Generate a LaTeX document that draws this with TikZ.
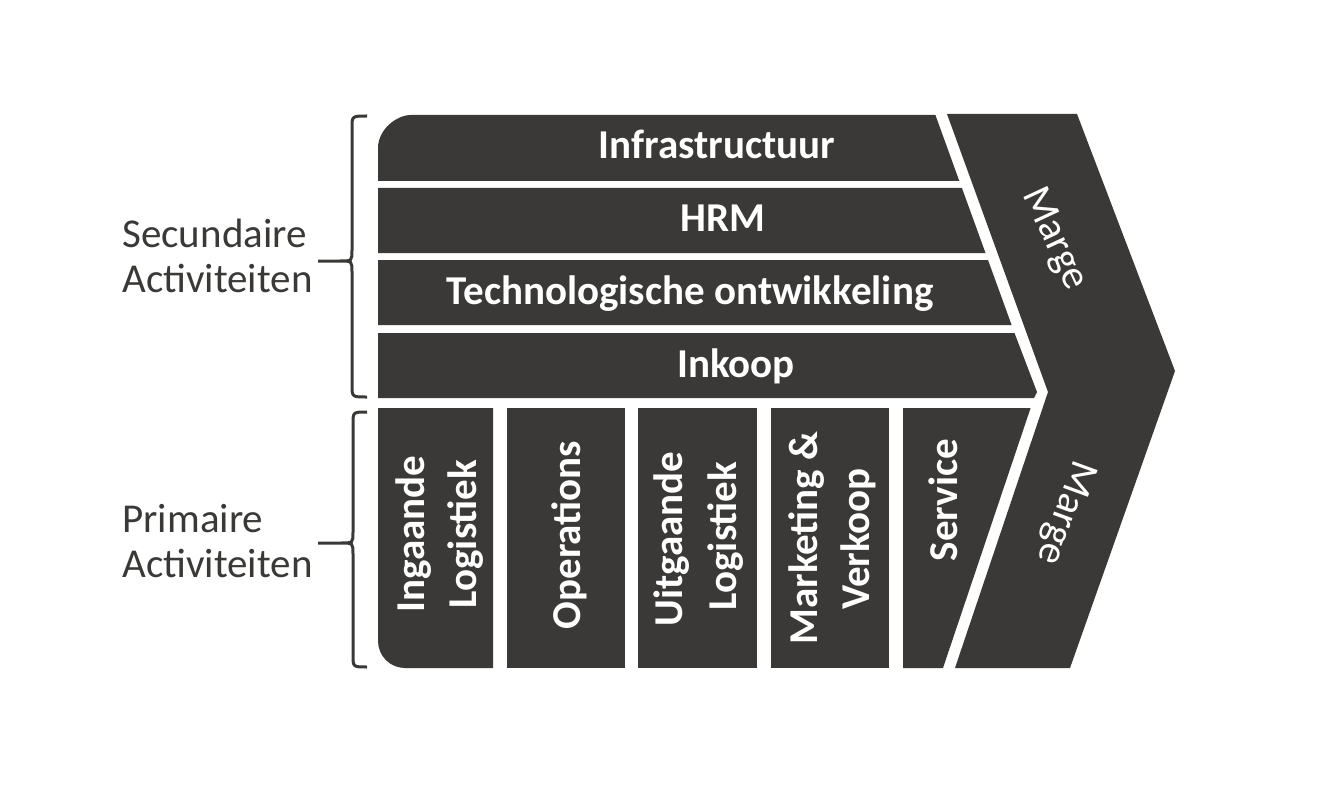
\documentclass[tikz,border=0pt]{standalone}
\usepackage{fontspec}
\setmainfont{Carlito}
\definecolor{dk}{RGB}{58,57,55}
\begin{document}
\begin{tikzpicture}[x=0.5pt,y=-0.5pt,
  blk/.style={fill=dk},
  bartxt/.style={text=white,font=\fontsize{20.5pt}{25pt}\selectfont\bfseries,inner sep=0pt,anchor=base},
  coltxt/.style={bartxt,rotate=90},
  margetxt/.style={text=white,font=\fontsize{20.5pt}{25pt}\selectfont,inner sep=0pt},
  lbl/.style={text=dk,font=\fontsize{20.5pt}{25pt}\selectfont,inner sep=0pt,anchor=base west},
  brace/.style={draw=dk,line width=1.5pt}]
\path[use as bounding box,fill=white] (0,0) rectangle (1334,808);

% Marge chevron
\fill[blk] (947,114) -- (1077,114) -- (1175,371) -- (1070,668) -- (955,668) -- (1048,392) -- cycle;

% secondary bars
\fill[blk] (378,181) -- (378,148) .. controls (378,129.8) and (396.2,115) .. (411,115) -- (935.4,115) -- (959.3,181) -- cycle;
\fill[blk] (378,188) -- (961.9,188) -- (985.5,253) -- (378,253) -- cycle;
\fill[blk] (378,260) -- (988.0,260) -- (1011.6,325) -- (378,325) -- cycle;
\fill[blk] (378,333) -- (1014.5,333) -- (1037,392) -- (1034,398) -- (378,398) -- cycle;

% primary columns
\fill[blk] (378,408) -- (493,408) -- (493,668) -- (405,668) .. controls (390.1,668) and (378,655.9) .. (378,641) -- cycle;
\fill[blk] (507,408) rectangle (625,668);
\fill[blk] (638,408) rectangle (757,668);
\fill[blk] (771,408) rectangle (889,668);
\fill[blk] (903,408) -- (1030.6,408) -- (943,668) -- (903,668) -- cycle;

% texts in bars
\node[bartxt] (infra) at (717,159) {Infrastructuur};
\node[bartxt] (hrm) at (723,231) {HRM};
\node[bartxt] (tech) at (690,304) {Technologische ontwikkeling};
\node[bartxt] (inkoop) at (736,377) {Inkoop};

\node[coltxt] (c1a) at (424,534) {Ingaande};
\node[coltxt] (c1b) at (476,534) {Logistiek};
\node[coltxt] (c2) at (580,535) {Operations};
\node[coltxt] (c3a) at (682,539) {Uitgaande};
\node[coltxt] (c3b) at (736,536) {Logistiek};
\node[coltxt] (c4a) at (817,538) {Marketing \&};
\node[coltxt] (c4b) at (869,539) {Verkoop};
\node[coltxt] (c5) at (957,500) {Service};

\node[margetxt,rotate=-65] (m1) at (1054,239) {Marge};
\node[margetxt,rotate=-110] (m2) at (1065,512) {Marge};

% labels
\node[lbl] (sec1) at (122,247) {Secundaire};
\node[lbl] (sec2) at (122,292) {Activiteiten};
\node[lbl] (pri1) at (122,532) {Primaire};
\node[lbl] (pri2) at (122,577) {Activiteiten};

% braces
\draw[brace] (367,116) .. controls (352,116) .. (352,128) -- (352,250) .. controls (352,261) .. (340,261) -- (318,261)
  (340,261) .. controls (352,261) .. (352,272) -- (352,385) .. controls (352,397) .. (367,397);
\draw[brace] (367,412) .. controls (353,412) .. (353,424) -- (353,532) .. controls (353,543) .. (341,543) -- (318,543)
  (341,543) .. controls (353,543) .. (353,554) -- (353,655) .. controls (353,667) .. (367,667);
\end{tikzpicture}
\end{document}
